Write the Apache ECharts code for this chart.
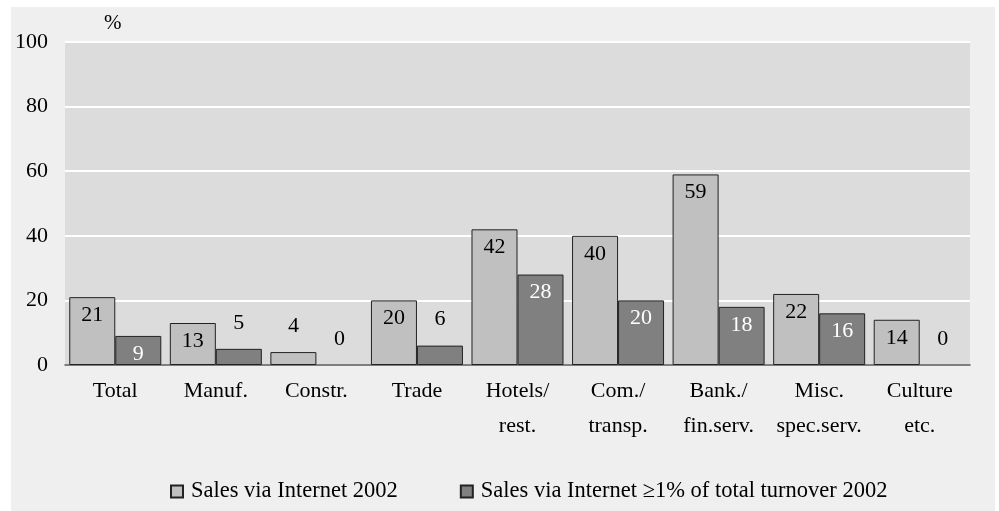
<!DOCTYPE html>
<html>
<head>
<meta charset="utf-8">
<script src="https://cdn.jsdelivr.net/npm/echarts@6/dist/echarts.min.js"></script>
<style>
  html, body { margin: 0; padding: 0; background: #ffffff; }
  #chart { width: 999px; height: 511px; }
</style>
</head>
<body>
<div id="chart"></div>
<script>
// Sectors shown along the category axis
const categories = ['Total', 'Manuf.', 'Constr.', 'Trade', 'Hotels/\nrest.', 'Com./\ntransp.', 'Bank./\nfin.serv.', 'Misc.\nspec.serv.', 'Culture\netc.'];
// Share of enterprises (%)
const salesInternet = [21, 13, 4, 20, 42, 40, 59, 22, 14];
const salesInternet1pct = [9, 5, 0, 6, 28, 20, 18, 16, 0];
const seriesNames = ['Sales via Internet 2002', 'Sales via Internet \u22651% of total turnover 2002'];
const yTicks = [0, 20, 40, 60, 80, 100];

const FONT = '"Liberation Serif", "Times New Roman", serif';
const SMALL = 6; // values at or below this get their label above the bar

function buildData(values, insideColor) {
  return values.map(v => {
    const small = v <= SMALL;
    return {
      value: v,
      itemStyle: v === 0 ? { borderWidth: 0 } : {},
      label: small
        ? { position: 'top', distance: 15, color: '#000000' }
        : { position: 'insideTop', distance: 7, color: insideColor }
    };
  });
}

const chart = echarts.init(document.getElementById('chart'), null, { renderer: 'canvas' });

chart.setOption({
  backgroundColor: '#ffffff',
  animation: false,
  graphic: [
    {
      type: 'rect', z: -10, silent: true,
      shape: { x: 11, y: 7, width: 984, height: 504 },
      style: { fill: '#efefef' }
    },
    {
      type: 'text', left: 104, top: 13, silent: true,
      style: { text: '%', font: '21px ' + FONT, fill: '#000000' }
    }
  ],
  grid: {
    left: 65, right: 29, top: 42, bottom: 146,
    show: true, backgroundColor: '#dcdcdc', borderWidth: 0
  },
  legend: {
    left: 165, top: 475,
    icon: 'rect',
    itemWidth: 12, itemHeight: 12, itemGap: 62,
    textStyle: { fontFamily: FONT, fontSize: 22.5, color: '#000000', padding: [0, 0, 0, 3] },
    data: seriesNames
  },
  xAxis: {
    type: 'category',
    data: categories,
    axisTick: { show: false },
    axisLine: { show: true, lineStyle: { color: '#555555', width: 1.5 } },
    axisLabel: {
      fontFamily: FONT, fontSize: 22, color: '#000000',
      margin: 9, lineHeight: 35, interval: 0
    }
  },
  yAxis: {
    type: 'value',
    min: 0, max: 100, interval: 20,
    axisLine: { show: false },
    axisTick: { show: false },
    splitLine: { show: true, lineStyle: { color: '#ffffff', width: 2 } },
    axisLabel: {
      fontFamily: FONT, fontSize: 22, color: '#000000', margin: 17,
      formatter: v => (yTicks.indexOf(v) >= 0 ? String(v) : '')
    }
  },
  series: [
    {
      name: seriesNames[0],
      type: 'bar',
      barGap: '0%',
      barCategoryGap: '8.5%',
      itemStyle: { color: '#c0c0c0', borderColor: '#222222', borderWidth: 1 },
      label: { show: true, fontFamily: FONT, fontSize: 22 },
      data: buildData(salesInternet, '#000000')
    },
    {
      name: seriesNames[1],
      type: 'bar',
      barGap: '0%',
      barCategoryGap: '8.5%',
      itemStyle: { color: '#808080', borderColor: '#222222', borderWidth: 1 },
      label: { show: true, fontFamily: FONT, fontSize: 22 },
      data: buildData(salesInternet1pct, '#ffffff')
    }
  ]
});
</script>
</body>
</html>
